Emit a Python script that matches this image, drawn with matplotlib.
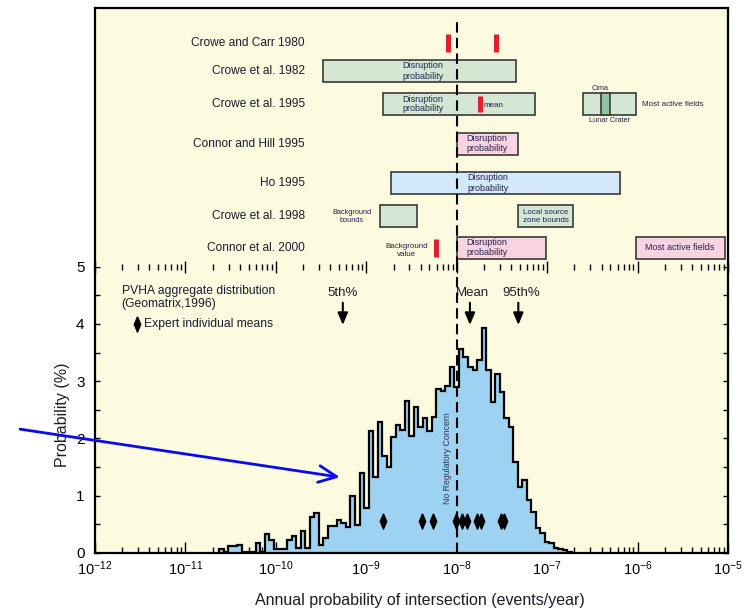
import numpy as np
import matplotlib
matplotlib.use("Agg")
import matplotlib.pyplot as plt
from matplotlib.patches import FancyArrowPatch
from matplotlib.ticker import LogLocator, NullFormatter, MultipleLocator, FixedLocator

plt.rcParams['font.family'] = ['Liberation Sans', 'DejaVu Sans']
plt.rcParams['mathtext.fontset'] = 'custom'
plt.rcParams['mathtext.rm'] = 'Liberation Sans'
plt.rcParams['mathtext.it'] = 'Liberation Sans:italic'
plt.rcParams['mathtext.bf'] = 'Liberation Sans:bold'

# ---------------- data ----------------
# PVHA aggregate distribution: log10 bin start, bin width (decades), probability (%)
hist_log_start = -10.625
hist_log_width = 0.05
hist_prob = [0.06, 0.02, 0.12, 0.12, 0.13, 0.02, 0.01, 0.01, 0.17, 0.02,
             0.32, 0.22, 0.06, 0.07, 0.07, 0.23, 0.30, 0.08, 0.38, 0.09,
             0.62, 0.70, 0.14, 0.25, 0.47, 0.47, 0.57, 0.52, 0.45, 0.99,
             0.48, 1.40, 0.78, 2.13, 1.33, 2.28, 1.69, 1.50, 2.02, 2.24,
             2.14, 2.66, 2.04, 2.55, 2.19, 2.35, 2.13, 2.37, 2.86, 2.82,
             2.91, 3.24, 2.90, 3.56, 3.42, 3.25, 3.20, 3.37, 3.92, 3.20,
             2.64, 3.12, 2.81, 2.35, 2.19, 1.59, 1.15, 1.27, 0.92, 0.72,
             0.43, 0.35, 0.19, 0.17, 0.09, 0.07, 0.05, 0.02]

expert_means = [1.54e-9, 4.1e-9, 5.5e-9, 9.8e-9, 1.14e-8, 1.31e-8,
                1.69e-8, 1.84e-8, 3.1e-8, 3.33e-8]

percentile_labels = ['5th%', 'Mean', '95th%']
percentile_values = [5.5e-10, 1.4e-8, 4.8e-8]

no_concern = 1e-8

x_major_ticks = [1e-12, 1e-11, 1e-10, 1e-9, 1e-8, 1e-7, 1e-6, 1e-5]

studies = ['Crowe and Carr 1980', 'Crowe et al. 1982', 'Crowe et al. 1995',
           'Connor and Hill 1995', 'Ho 1995', 'Crowe et al. 1998',
           'Connor et al. 2000']

# ranges: (study index, low, high, kind)
ranges_study = [1, 2, 2, 2, 3, 4, 5, 5, 6, 6]
ranges_low = [3.3e-10, 1.54e-9, 2.5e-7, 3.9e-7, 1.0e-8, 1.9e-9, 1.42e-9, 4.8e-8, 1.0e-8, 9.5e-7]
ranges_high = [4.5e-8, 7.3e-8, 9.5e-7, 4.9e-7, 4.8e-8, 6.4e-7, 3.6e-9, 1.92e-7, 9.7e-8, 9.3e-6]
ranges_kind = ['green', 'green', 'green', 'dgreen', 'pink', 'blue', 'green', 'green', 'pink', 'pink']

# point estimates (red marks): study index, value
points_study = [0, 0, 2, 6]
points_value = [8.1e-9, 2.74e-8, 1.79e-8, 5.9e-9]

# ---------------- style / layout ----------------
W, H = 754, 611
fig = plt.figure(figsize=(W / 100, H / 100), dpi=100)
bg = '#FCFADF'
left, width = 95 / W, 633 / W
ax = fig.add_axes([left, (H - 552.7) / H, width, 286.0 / H], facecolor=bg)
axt = fig.add_axes([left, (H - 266.7) / H, width, 258.4 / H], facecolor=bg, sharex=ax)

kind_colors = {'green': '#D4E6D4', 'dgreen': '#8EC79C', 'pink': '#F9D3E0', 'blue': '#D3E8F8'}
edge = '#3a3a3a'
red = '#E0202A'
txtc = '#1c1c30'
row_y = [34.3, 62.7, 96.0, 135.3, 174.7, 208.0, 239.3]
box_h = 22

# ---------------- bottom panel ----------------
edges = 10 ** (hist_log_start + hist_log_width * np.arange(len(hist_prob) + 1))
ax.stairs(hist_prob, edges, fill=True, color='#9DD2F2', zorder=2)
ax.stairs(hist_prob, edges, color='black', lw=1.6, zorder=3)

ax.set_xscale('log')
ax.set_xlim(1e-12, 1e-5)
ax.set_ylim(0, 5)

ax.axvline(no_concern, color='black', lw=1.5, dashes=(5, 2.5), zorder=4)
ax.text(7.87e-9, 1.66, 'No Regulatory Concern', rotation=90, ha='center', va='center',
        fontsize=6.3, color='#333344', zorder=5)

mk = [(0, 1), (0.42, 0), (0, -1), (-0.42, 0), (0, 1)]
ax.plot(expert_means, [0.55] * len(expert_means), linestyle='none', marker=mk,
        markersize=11, color='black', zorder=6)

label_shift = [1.0, 1.07, 1.07]
for lab, v, sh in zip(percentile_labels, percentile_values, label_shift):
    ax.text(v * sh, 4.54, lab, ha='center', va='center', fontsize=9.5, color=txtc)
    ax.annotate('', xy=(v, 3.98), xytext=(v, 4.37),
                arrowprops=dict(arrowstyle='-|>,head_length=0.6,head_width=0.25',
                                mutation_scale=12, color='black', lw=1.5,
                                shrinkA=0, shrinkB=0))

ax.text(1.97e-12, 4.46, 'PVHA aggregate distribution\n(Geomatrix,1996)', ha='left',
        va='center', fontsize=8.7, color=txtc, linespacing=1.2)
ax.plot([2.9e-12], [3.99], linestyle='none', marker=mk, markersize=11, color='black')
ax.text(3.48e-12, 3.99, 'Expert individual means', ha='left', va='center',
        fontsize=8.7, color=txtc)

# blue annotation arrow (starts outside the axes on the left)
blue_arrow = FancyArrowPatch((10 ** -12.829, 2.16), (10 ** -9.291, 1.32),
                             transform=ax.transData, clip_on=False,
                             arrowstyle='->,head_length=0.65,head_width=0.3',
                             mutation_scale=20, color='#0A0AF0', lw=2.0,
                             shrinkA=0, shrinkB=0, zorder=10)
ax.add_patch(blue_arrow)

ax.spines['top'].set_visible(False)
for s in ['left', 'right', 'bottom']:
    ax.spines[s].set_linewidth(1.6)

ax.xaxis.set_major_locator(FixedLocator(x_major_ticks))
ax.xaxis.set_minor_locator(LogLocator(base=10, subs=np.arange(2, 10), numticks=100))
ax.xaxis.set_minor_formatter(NullFormatter())
ax.yaxis.set_major_locator(MultipleLocator(1))
ax.yaxis.set_minor_locator(MultipleLocator(0.5))
ax.tick_params(axis='x', which='major', direction='in', length=8, width=1.0,
               labelsize=10.5, pad=5, top=False)
ax.tick_params(axis='x', which='minor', direction='in', length=4.5, width=1.0, top=False)
ax.tick_params(axis='y', which='both', direction='in', length=3.5, width=1.0,
               left=True, right=True, labelsize=11, pad=7.5)

ax.set_xlabel('Annual probability of intersection (events/year)', fontsize=11.5, color=txtc)
ax.set_ylabel('Probability (%)', fontsize=11.5, color=txtc)
ax.xaxis.set_label_coords(0.513, -0.168)
ax.xaxis.label.set_va('center')
ax.yaxis.set_label_coords(-0.052, 0.484)
ax.yaxis.label.set_va('center')

# ---------------- top panel ----------------
axt.set_ylim(258.4, 0)
axt.axvline(no_concern, ymin=0, ymax=1 - 12 / 258.4, color='black', lw=1.5,
            dashes=(5, 2.5), zorder=4)

for si, lo, hi, kind in zip(ranges_study, ranges_low, ranges_high, ranges_kind):
    axt.barh(row_y[si], hi - lo, left=lo, height=box_h, color=kind_colors[kind],
             edgecolor=edge, linewidth=1.2, zorder=2)

for si, v in zip(points_study, points_value):
    h = 16 if si == 2 else 18
    axt.vlines(v, row_y[si] - h / 2, row_y[si] + h / 2, color=red, lw=3.6,
               zorder=5, capstyle='butt')

for name, y in zip(studies, row_y):
    axt.text(2.1e-10, y, name, ha='right', va='center', fontsize=8.6, color=txtc)

dp = 'Disruption\nprobability'
kw = dict(fontsize=6.5, color='#222250', va='center', zorder=6)
axt.text(2.53e-9, row_y[1], dp, ha='left', linespacing=1.3, **kw)
axt.text(2.53e-9, row_y[2], dp, ha='left', linespacing=1.05, **kw)
axt.text(1.97e-8, row_y[2] + 1, 'mean', ha='left', **dict(kw, fontsize=5.8))
axt.text(3.84e-7, row_y[2] - 15.5, 'Cima', ha='center', **dict(kw, fontsize=5.3))
axt.text(4.95e-7, row_y[2] + 16, 'Lunar Crater', ha='center', **dict(kw, fontsize=5.3))
axt.text(1.13e-6, row_y[2], 'Most active fields', ha='left', **dict(kw, fontsize=5.8))
axt.text(1.27e-8, row_y[3], dp, ha='left', linespacing=1.25, **kw)
axt.text(1.31e-8, row_y[4], dp, ha='left', linespacing=1.25, **kw)
axt.text(6.9e-10, row_y[5], 'Background\nbounds', ha='center', linespacing=1.3,
         **dict(kw, fontsize=5.3))
axt.text(9.6e-8, row_y[5], 'Local source\nzone bounds', ha='center', linespacing=1.3,
         **dict(kw, fontsize=5.8))
axt.text(2.8e-9, row_y[6] + 3, 'Background\nvalue', ha='center', linespacing=1.2,
         **dict(kw, fontsize=5.8))
axt.text(1.27e-8, row_y[6], dp, ha='left', linespacing=1.25, **kw)
axt.text(2.94e-6, row_y[6], 'Most active fields', ha='center', **dict(kw, fontsize=6.5))

axt.spines['bottom'].set_visible(False)
for s in ['left', 'right', 'top']:
    axt.spines[s].set_linewidth(1.6)
axt.set_yticks([])
axt.tick_params(axis='x', which='major', direction='inout', length=8, width=1.0,
                labelbottom=False, top=False)
axt.tick_params(axis='x', which='minor', direction='inout', length=4, width=1.0,
                labelbottom=False, top=False)

fig.savefig('out.png', dpi=100, facecolor='white')
